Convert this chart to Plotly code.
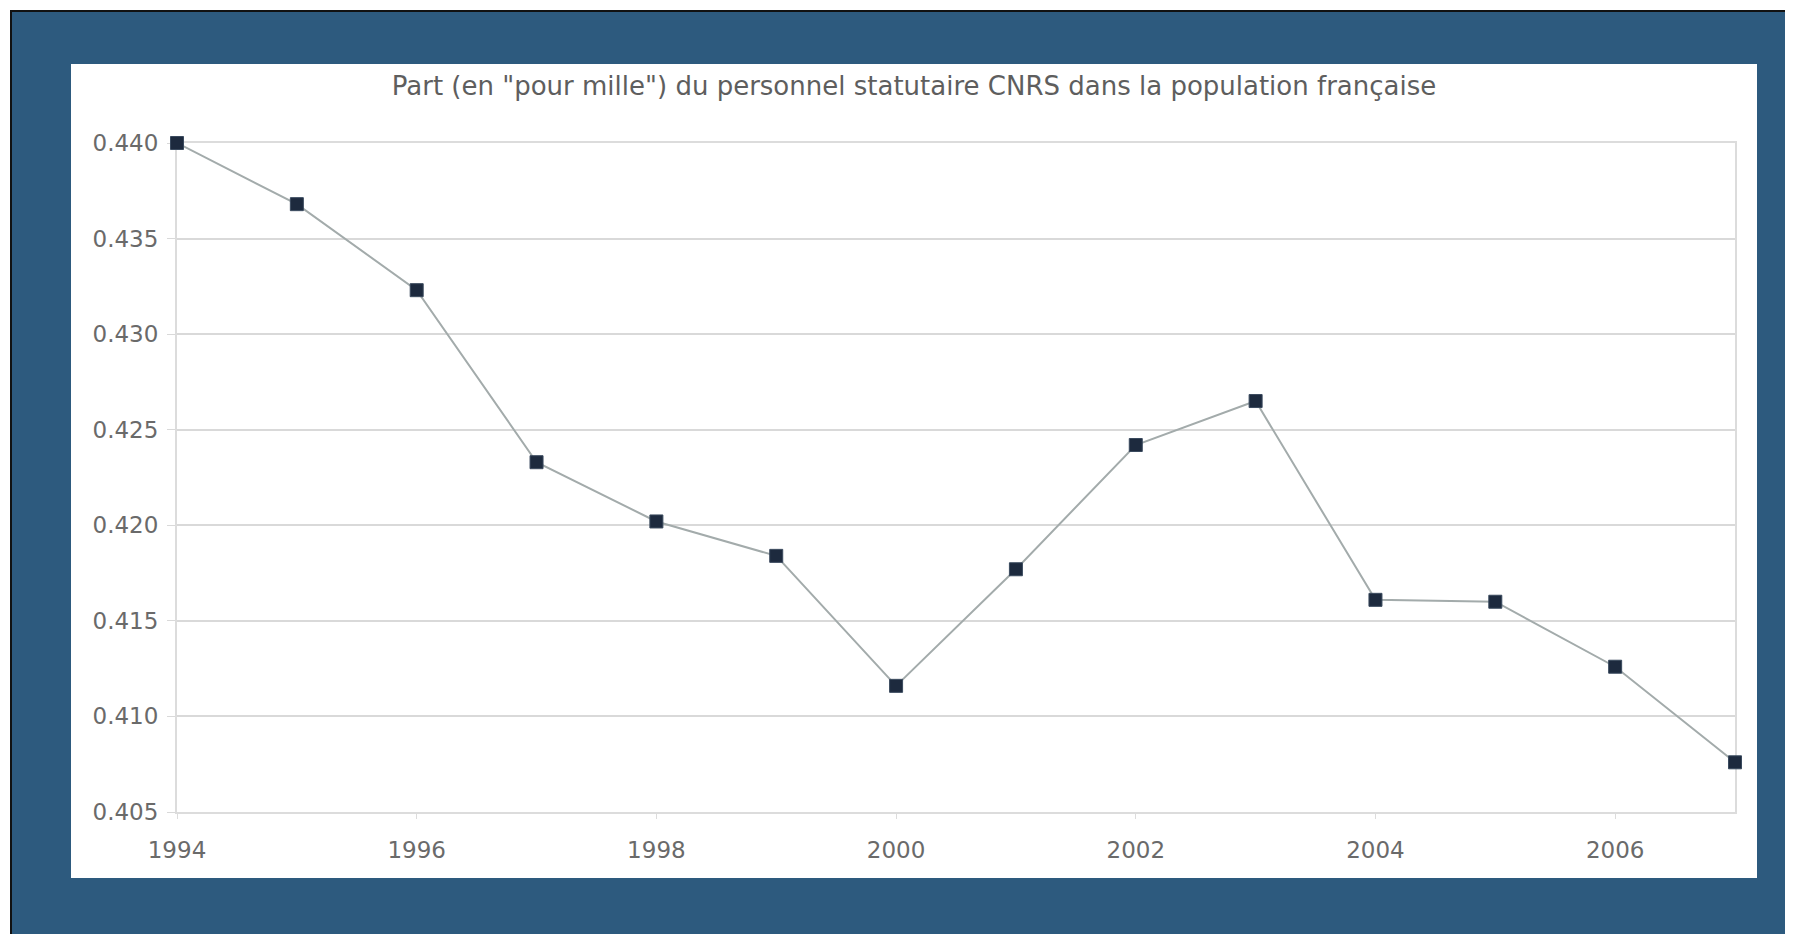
import plotly.graph_objects as go

years = [1994, 1995, 1996, 1997, 1998, 1999, 2000, 2001, 2002, 2003, 2004, 2005, 2006, 2007]
share = [0.4400, 0.4368, 0.4323, 0.4233, 0.4202, 0.4184, 0.4116, 0.4177, 0.4242, 0.4265, 0.4161, 0.4160, 0.4126, 0.4076]
title_text = 'Part (en "pour mille") du personnel statutaire CNRS dans la population française'

# page is offset by the 8px default body margin
OFF = 8
W, H = 1793 - OFF, 934 - OFF
L, R, T, B = 177 - OFF, 1735 - OFF, 143 - OFF, 812 - OFF
pw, ph = R - L, B - T

def px(x):
    return (x - OFF - L) / pw

def py(y):
    return (B - (y - OFF)) / ph

fig = go.Figure()
fig.add_trace(go.Scatter(
    x=years, y=share, mode="lines+markers",
    line=dict(color="#a3abab", width=2),
    marker=dict(symbol="square", size=13, color="#1d2a3e",
                line=dict(color="#3a4a5e", width=1)),
    showlegend=False, hoverinfo="x+y", cliponaxis=False,
))

shapes = [
    # blue frame with black border
    dict(type="rect", xref="paper", yref="paper", layer="below",
         x0=px(11), x1=px(1793 + 20), y0=py(11), y1=py(934 + 20),
         fillcolor="#2d5a7e", line=dict(color="#111111", width=2)),
    # white panel
    dict(type="rect", xref="paper", yref="paper", layer="below",
         x0=px(71), x1=px(1757), y0=py(64), y1=py(878),
         fillcolor="#ffffff", line=dict(width=0)),
]

fig.update_layout(
    width=W, height=H,
    margin=dict(l=L, r=W - R, t=T, b=H - B, pad=0),
    paper_bgcolor="#ffffff",
    plot_bgcolor="rgba(0,0,0,0)",
    shapes=shapes,
    font=dict(family="DejaVu Sans, sans-serif", color="#6a6a6a"),
    title=dict(text=title_text, x=px(914), xref="paper", xanchor="center",
               y=1 - (86 - OFF) / H, yref="container", yanchor="middle",
               font=dict(size=26, color="#5e5e5e")),
    xaxis=dict(range=[1994, 2007], tick0=1994, dtick=2, showgrid=False,
               showline=True, mirror=True, linecolor="#dcdcdc", linewidth=2,
               ticks="outside", ticklen=5, tickcolor="#dcdcdc",
               ticklabelstandoff=11, layer="below traces",
               tickfont=dict(size=23, color="#6a6a6a"), zeroline=False),
    yaxis=dict(range=[0.405, 0.440], tick0=0.405, dtick=0.005, tickformat=".3f",
               showgrid=True, gridcolor="#d9d9d9", gridwidth=2,
               showline=True, mirror=True, linecolor="#dcdcdc", linewidth=2,
               ticks="outside", ticklen=8, tickcolor="#d9d9d9",
               ticklabelstandoff=4, layer="below traces",
               tickfont=dict(size=23, color="#6a6a6a"), zeroline=False),
)

fig.write_html("out.html")
